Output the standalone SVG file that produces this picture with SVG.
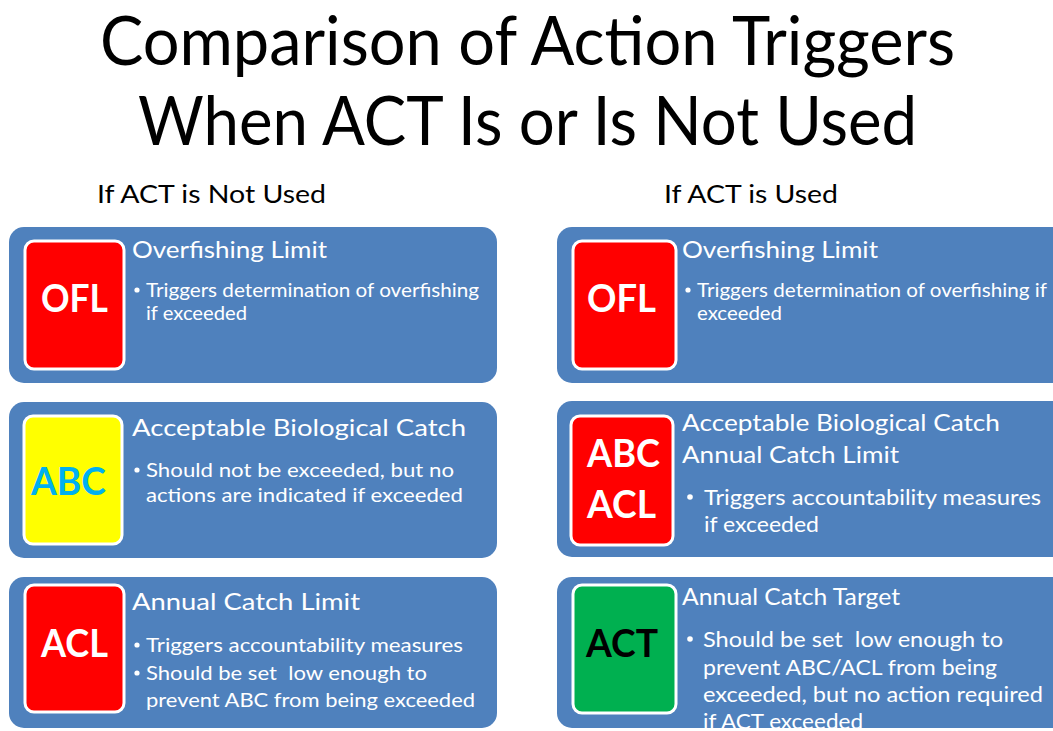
<svg xmlns="http://www.w3.org/2000/svg" width="1053" height="731" viewBox="0 0 1053 731">
  <style>
    text { font-family: Lato, "Open Sans", "Liberation Sans", sans-serif; }
    .heading { font-size: 67px; fill: #000; }
    .sub { font-size: 25px; fill: #000; }
    .panel { fill: #4F81BD; }
    .tag { stroke: #FFFFFF; stroke-width: 3; }
    .red { fill: #FF0000; }
    .yellow { fill: #FFFF00; }
    .green { fill: #00B050; }
    .code { font-size: 39px; font-weight: bold; fill: #FFFFFF; }
    .title { font-size: 24px; fill: #FFFFFF; }
    .body { font-size: 20px; fill: #FFFFFF; }
    .bodyL { font-size: 22px; fill: #FFFFFF; }
    .dot { fill: #FFFFFF; }
  </style>

  <rect width="1053" height="731" fill="#FFFFFF"/>

  <!-- page heading -->
  <g id="heading">
    <text class="heading" x="100" y="65" textLength="855" lengthAdjust="spacingAndGlyphs">Comparison of Action Triggers</text>
    <text class="heading" x="138" y="145" textLength="779" lengthAdjust="spacingAndGlyphs">When ACT Is or Is Not Used</text>
  </g>

  <!-- column headings -->
  <g id="col-left-head">
    <text class="sub" x="97" y="203" textLength="229" lengthAdjust="spacingAndGlyphs">If ACT is Not Used</text>
  </g>
  <g id="col-right-head">
    <text class="sub" x="664" y="203" textLength="174" lengthAdjust="spacingAndGlyphs">If ACT is Used</text>
  </g>

  <!-- left column: ACT not used -->
  <g id="left-ofl">
    <rect class="panel" x="9" y="227" width="488" height="156" rx="15"/>
    <rect class="tag red" x="25" y="241" width="99" height="128" rx="9"/>
    <text class="code" x="41" y="312" textLength="67" lengthAdjust="spacingAndGlyphs">OFL</text>
    <text class="title" x="132" y="258" textLength="195" lengthAdjust="spacingAndGlyphs">Overfishing Limit</text>
    <circle class="dot" cx="137" cy="290" r="2.6"/>
    <text class="body" x="146" y="297" textLength="333" lengthAdjust="spacingAndGlyphs">Triggers determination of overfishing</text>
    <text class="body" x="146" y="320" textLength="101" lengthAdjust="spacingAndGlyphs">if exceeded</text>
  </g>

  <g id="left-abc">
    <rect class="panel" x="9" y="402" width="488" height="156" rx="15"/>
    <rect class="tag yellow" x="24" y="416" width="98" height="128" rx="9"/>
    <text class="code" x="31" y="495" textLength="75" lengthAdjust="spacingAndGlyphs" style="fill:#00B0F0">ABC</text>
    <text class="title" x="132" y="436" textLength="334" lengthAdjust="spacingAndGlyphs">Acceptable Biological Catch</text>
    <circle class="dot" cx="137" cy="470" r="2.6"/>
    <text class="body" x="146" y="477" textLength="308" lengthAdjust="spacingAndGlyphs">Should not be exceeded, but no</text>
    <text class="body" x="146" y="502" textLength="317" lengthAdjust="spacingAndGlyphs">actions are indicated if exceeded</text>
  </g>

  <g id="left-acl">
    <rect class="panel" x="9" y="577" width="488" height="151" rx="15"/>
    <rect class="tag red" x="25" y="585" width="99" height="127" rx="9"/>
    <text class="code" x="41" y="657" textLength="67" lengthAdjust="spacingAndGlyphs">ACL</text>
    <text class="title" x="132" y="610" textLength="228" lengthAdjust="spacingAndGlyphs">Annual Catch Limit</text>
    <circle class="dot" cx="137" cy="645" r="2.6"/>
    <text class="body" x="146" y="652" textLength="317" lengthAdjust="spacingAndGlyphs">Triggers accountability measures</text>
    <circle class="dot" cx="137" cy="673" r="2.6"/>
    <text class="body" x="146" y="680" textLength="281" lengthAdjust="spacingAndGlyphs" xml:space="preserve">Should be set  low enough to</text>
    <text class="body" x="146" y="707" textLength="329" lengthAdjust="spacingAndGlyphs">prevent ABC from being exceeded</text>
  </g>

  <!-- right column: ACT used -->
  <g id="right-ofl">
    <rect class="panel" x="557" y="227" width="520" height="156" rx="15"/>
    <rect class="tag red" x="573" y="241" width="103" height="128" rx="9"/>
    <text class="code" x="587" y="312" textLength="69" lengthAdjust="spacingAndGlyphs">OFL</text>
    <text class="title" x="682" y="258" textLength="196" lengthAdjust="spacingAndGlyphs">Overfishing Limit</text>
    <circle class="dot" cx="688" cy="290" r="2.6"/>
    <text class="body" x="697" y="297" textLength="350" lengthAdjust="spacingAndGlyphs">Triggers determination of overfishing if</text>
    <text class="body" x="697" y="320" textLength="85" lengthAdjust="spacingAndGlyphs">exceeded</text>
  </g>

  <g id="right-abc-acl">
    <rect class="panel" x="557" y="401" width="520" height="156" rx="15"/>
    <rect class="tag red" x="571" y="416" width="102" height="129" rx="9"/>
    <text class="code" x="587" y="467" textLength="73" lengthAdjust="spacingAndGlyphs">ABC</text>
    <text class="code" x="587" y="518" textLength="69" lengthAdjust="spacingAndGlyphs">ACL</text>
    <text class="title" x="682" y="431" textLength="318" lengthAdjust="spacingAndGlyphs">Acceptable Biological Catch</text>
    <text class="title" x="682" y="463" textLength="217" lengthAdjust="spacingAndGlyphs">Annual Catch Limit</text>
    <circle class="dot" cx="690" cy="497" r="2.8"/>
    <text class="bodyL" x="704" y="505" textLength="337" lengthAdjust="spacingAndGlyphs">Triggers accountability measures</text>
    <text class="bodyL" x="704" y="532" textLength="115" lengthAdjust="spacingAndGlyphs">if exceeded</text>
  </g>

  <g id="right-act">
    <rect class="panel" x="557" y="577" width="520" height="151" rx="15"/>
    <rect class="tag green" x="573" y="585" width="103" height="128" rx="9"/>
    <text class="code" x="586" y="657" textLength="72" lengthAdjust="spacingAndGlyphs" style="fill:#000000">ACT</text>
    <text class="title" x="682" y="605" textLength="218" lengthAdjust="spacingAndGlyphs">Annual Catch Target</text>
    <circle class="dot" cx="690" cy="639" r="2.8"/>
    <text class="bodyL" x="703" y="647" textLength="300" lengthAdjust="spacingAndGlyphs" xml:space="preserve">Should be set  low enough to</text>
    <text class="bodyL" x="703" y="675" textLength="294" lengthAdjust="spacingAndGlyphs">prevent ABC/ACL from being</text>
    <text class="bodyL" x="703" y="702" textLength="340" lengthAdjust="spacingAndGlyphs">exceeded, but no action required</text>
    <text class="bodyL" x="703" y="729" textLength="160" lengthAdjust="spacingAndGlyphs">if ACT exceeded</text>
  </g>

  <!-- no connectors in this layout -->
  <g id="connectors"/>
</svg>
